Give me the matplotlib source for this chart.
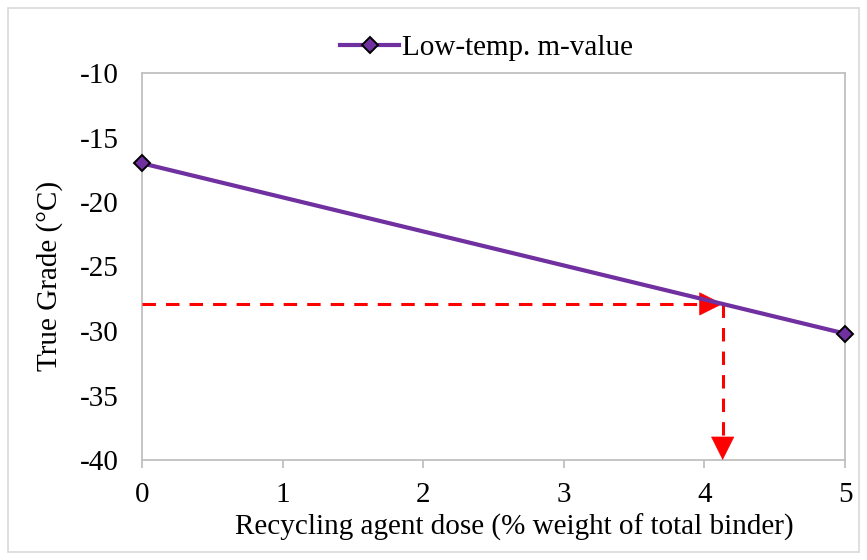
import numpy as np
import matplotlib.pyplot as plt
from matplotlib.patches import Rectangle
from matplotlib.ticker import FuncFormatter

plt.rcParams['font.family'] = ['Liberation Serif', 'DejaVu Serif']

# measured low-temperature true grade vs. recycling agent dose
dose = [0, 5]
true_grade = [-17.0, -30.2]

# target grade
target_grade = -27.9
target_dose = 4.13

fig = plt.figure(figsize=(8.67, 5.6), dpi=100)
ax = fig.add_axes([142/867, 1-460/560, (845-142)/867, (460-73)/560])

ax.plot(dose, true_grade, color='#7030A0', lw=3.0, marker='D', ms=8,
        mfc='#7030A0', mec='black', mew=1.4, label='Low-temp. m-value',
        clip_on=False, zorder=5)

# dashed guide lines with solid arrow heads at their ends
dash = (0, (4.4, 3.3))
ax.plot([0, target_dose - 0.08], [target_grade, target_grade], color='red',
        lw=2.2, ls=dash, zorder=4)
ax.plot([target_dose, target_dose], [target_grade, -40 + 0.9], color='red',
        lw=2.2, ls=dash, zorder=4)
head = dict(arrowstyle='-|>,head_length=0.8,head_width=0.4', color='red',
            lw=0.5, shrinkA=0, shrinkB=0, mutation_scale=20)
ax.annotate('', xy=(target_dose, target_grade),
            xytext=(target_dose - 0.12, target_grade), arrowprops=head, zorder=4)
ax.annotate('', xy=(target_dose, -40), xytext=(target_dose, -40 + 1.2),
            arrowprops=head, zorder=4)

ax.set_xlim(0, 5)
ax.set_ylim(-40, -10)
ax.set_xticks(range(6))
ax.set_yticks(range(-40, -9, 5))
ax.yaxis.set_major_formatter(FuncFormatter(lambda v, p: '%d' % v))
for s in ax.spines.values():
    s.set_color('#C0C0C0')
    s.set_linewidth(1.3)
ax.tick_params(axis='x', direction='out', length=6, color='#C0C0C0',
               width=1.3, labelsize=21, pad=10)
ax.tick_params(axis='y', length=0, labelsize=21, pad=17)
ax.set_xlabel('Recycling agent dose (% weight of total binder)', fontsize=21)
ax.xaxis.set_label_coords(0.53, -0.14)
ax.set_ylabel('True Grade (°C)', fontsize=21)
ax.yaxis.set_label_coords(-0.113, 0.476)

leg = ax.legend(loc='lower center', bbox_to_anchor=(0.49, 1.0), frameon=False,
                fontsize=21, handlelength=2.0, handletextpad=0.1,
                borderaxespad=0.0)

# outer chart border
fig.patches.append(Rectangle((8/867, 8/560), 851/867, 544/560,
                             transform=fig.transFigure, fill=False,
                             ec='#D9D9D9', lw=1.2))

fig.savefig('out.png', dpi=100)
